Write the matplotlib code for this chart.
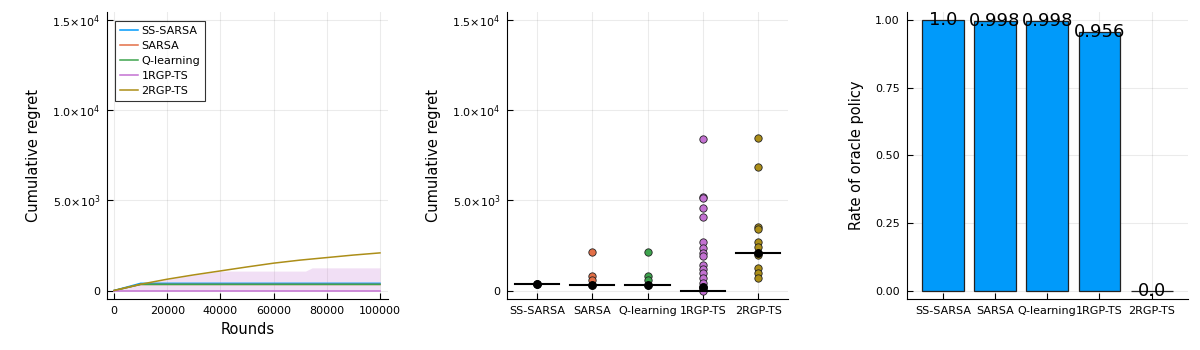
import matplotlib
matplotlib.use('Agg')
import matplotlib.pyplot as plt

matplotlib.rc('font', family='DejaVu Sans')

# data
methods = ['SS-SARSA', 'SARSA', 'Q-learning', '1RGP-TS', '2RGP-TS']
colors = ['#009AFA', '#E36F47', '#3EA44E', '#C371D2', '#AC8E18']

rounds = [0, 10000, 20000, 30000, 40000, 50000, 60000, 70000, 80000, 90000, 100000]
regret_ss_sarsa = [0, 400, 400, 400, 400, 400, 400, 400, 400, 400, 400]
regret_sarsa = [0, 340, 340, 340, 340, 340, 340, 340, 340, 340, 340]
regret_qlearn = [0, 340, 340, 340, 340, 340, 340, 340, 340, 340, 340]
regret_1rgp = [0, 0, 0, 0, 0, 0, 0, 0, 0, 0, 0]
regret_2rgp = [0, 350, 630, 870, 1090, 1310, 1520, 1690, 1830, 1970, 2090]

band_x = [0, 10000, 20000, 30000, 40000, 72000, 74500, 100000]
band_lo = [0, 0, 0, 0, 0, 0, 0, 0]
band_hi = [0, 350, 630, 870, 1080, 1080, 1260, 1260]

final_ss_sarsa = [390, 390, 390]
final_sarsa = [2130, 815, 590, 315]
final_qlearn = [2130, 815, 590, 315]
final_1rgp = [8400, 5220, 5160, 4570, 4090, 2700, 2350, 2110, 1890, 1430, 1200,
              965, 690, 445, 220, 130, 40, 0]
final_2rgp = [8460, 6850, 3520, 3410, 2720, 2420, 2110, 1980, 1240, 965, 690]
final_median = [390, 330, 330, 0, 2110]
final_dot = [390, 315, 315, 220, 2110]

oracle_rate = [1.0, 0.998, 0.998, 0.956, 0.0]
oracle_text = ['1.0', '0.998', '0.998', '0.956', '0.0']

fig = plt.figure(figsize=(12, 3.5), dpi=100)
ax1 = fig.add_axes([0.0892, 0.1457, 0.2341, 0.8203])
ax2 = fig.add_axes([0.4225, 0.1457, 0.2342, 0.8203])
ax3 = fig.add_axes([0.7556, 0.1457, 0.2342, 0.8203])


def style(ax):
    for s in ('top', 'right'):
        ax.spines[s].set_visible(False)
    ax.grid(True, color='#000000', alpha=0.08, lw=0.8)
    ax.set_axisbelow(True)
    ax.tick_params(direction='in', length=4, labelsize=8, width=0.8, pad=5)


regret_ticks = [0, 5000, 10000, 15000]
regret_labels = ['0', r'$5.0{\times}10^{3}$', r'$1.0{\times}10^{4}$', r'$1.5{\times}10^{4}$']

# left: cumulative regret curves
style(ax1)
ax1.fill_between(band_x, band_lo, band_hi, color=colors[3], alpha=0.22, lw=0)
series = [regret_ss_sarsa, regret_sarsa, regret_qlearn, regret_1rgp, regret_2rgp]
for name, vals, c in zip(methods, series, colors):
    ax1.plot(rounds, vals, color=c, lw=1.1, label=name)
ax1.set_xlim(-2630, 103000)
ax1.set_ylim(-470, 15470)
ax1.set_xticks([0, 20000, 40000, 60000, 80000, 100000])
ax1.set_xticklabels(['0', '20000', '40000', '60000', '80000', '100000'])
ax1.set_yticks(regret_ticks)
ax1.set_yticklabels(regret_labels)
ax1.set_xlabel('Rounds', fontsize=10.5)
ax1.set_ylabel('Cumulative regret', fontsize=10.5, labelpad=8)
leg = ax1.legend(loc='upper left', fontsize=8, frameon=True, fancybox=False,
                 edgecolor='black', handlelength=1.6, handletextpad=0.3,
                 borderpad=0.45, labelspacing=0.45, borderaxespad=0,
                 bbox_to_anchor=(0.03, 0.97))
leg.get_frame().set_linewidth(0.8)

# middle: final regret per run
style(ax2)
pos = [0.5, 1.5, 2.5, 3.5, 4.5]
finals = [final_ss_sarsa, final_sarsa, final_qlearn, final_1rgp, final_2rgp]
for p, vals, c in zip(pos, finals, colors):
    ax2.scatter([p] * len(vals), vals, s=28, color=c, edgecolor='#222222',
                linewidth=0.6, zorder=3)
for p, m, d in zip(pos, final_median, final_dot):
    ax2.plot([p - 0.4, p + 0.4], [m, m], color='black', lw=1.5, zorder=4)
    ax2.scatter([p], [d], s=28, color='black', zorder=5)
ax2.set_xlim(-0.04, 5.04)
ax2.set_ylim(-470, 15470)
ax2.set_xticks(pos)
ax2.set_xticklabels(methods)
ax2.set_yticks(regret_ticks)
ax2.set_yticklabels(regret_labels)
ax2.set_ylabel('Cumulative regret', fontsize=10.5, labelpad=8)

# right: rate of oracle policy
style(ax3)
ax3.bar(pos, oracle_rate, width=0.8, color=colors[0], edgecolor='#222222', lw=0.9)
for p, v, t in zip(pos, oracle_rate, oracle_text):
    ax3.text(p, v, t, ha='center', va='center', fontsize=13)
ax3.set_xlim(-0.19, 5.19)
ax3.set_ylim(-0.031, 1.03)
ax3.set_xticks(pos)
ax3.set_xticklabels(methods)
ax3.set_yticks([0, 0.25, 0.5, 0.75, 1.0])
ax3.set_yticklabels(['0.00', '0.25', '0.50', '0.75', '1.00'])
ax3.set_ylabel('Rate of oracle policy', fontsize=10.5, labelpad=8)

plt.savefig('out.png', dpi=100)
